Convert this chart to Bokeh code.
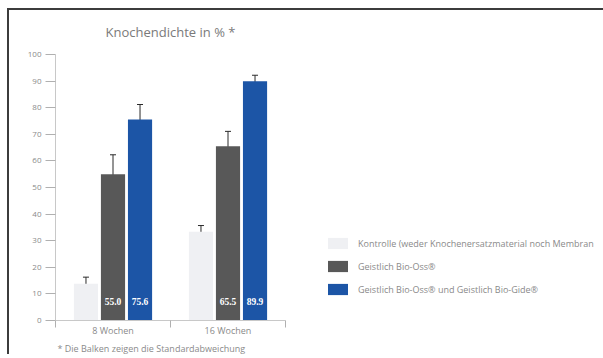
from bokeh.plotting import figure
from bokeh.models import (ColumnDataSource, Range1d, FixedTicker, Whisker, TeeHead,
                          LabelSet, Legend, LegendItem, Title)
from bokeh.embed import file_html
from bokeh.resources import INLINE

# ---- data ----
categories = ["8 Wochen", "16 Wochen"]
series_names = ["Kontrolle (weder Knochenersatzmaterial noch Membran",
                "Geistlich Bio-Oss®",
                "Geistlich Bio-Oss® und Geistlich Bio-Gide®"]
kontrolle = [13.8, 33.4]
kontrolle_sd = [2.5, 2.3]
bio_oss = [55.0, 65.5]
bio_oss_sd = [7.3, 5.6]
bio_gide = [75.6, 89.9]
bio_gide_sd = [5.6, 2.3]
value_labels_oss = ["55.0", "65.5"]
value_labels_gide = ["75.6", "89.9"]
y_ticks = [0, 10, 20, 30, 40, 50, 60, 70, 80, 90, 100]

colors = ["#eff0f3", "#585858", "#1c55a6"]
offsets = [-0.235, 0.0, 0.235]
bar_w = 0.21
FONT = "Open Sans"
TXT = "#8a8a8a"

p = figure(frame_width=230, frame_height=266, output_backend="svg", toolbar_location=None,
           x_range=Range1d(0, len(categories)), y_range=Range1d(0, 100),
           min_border_left=46, min_border_right=312, min_border_top=44, min_border_bottom=0)
p.styles = {"border-left": "2px solid #3c3c3c", "border-top": "2px solid #3c3c3c",
            "margin-left": "7px", "margin-top": "8px"}
p.outline_line_color = None
p.grid.visible = False
p.background_fill_color = "white"
p.border_fill_color = "white"

p.title.text = "Knochendichte in % *"
p.title.align = "center"
p.title.vertical_align = "top"
p.title.text_font = FONT
p.title.text_font_style = "normal"
p.title.text_font_size = "13px"
p.title.text_color = "#7a7a7a"
p.title.standoff = 24

values = [kontrolle, bio_oss, bio_gide]
sds = [kontrolle_sd, bio_oss_sd, bio_gide_sd]
renderers = []
for k in range(3):
    xs = [i + 0.5 + offsets[k] for i in range(len(categories))]
    src = ColumnDataSource(dict(x=xs, top=values[k],
                                upper=[v + s for v, s in zip(values[k], sds[k])],
                                lower=[v - s for v, s in zip(values[k], sds[k])]))
    r = p.vbar(x="x", top="top", bottom=0, width=bar_w, source=src,
               fill_color=colors[k], line_color=None)
    renderers.append(r)
    w = Whisker(base="x", upper="upper", lower="lower", source=src,
                line_color="#2a2a2a", line_width=1,
                upper_head=TeeHead(size=6, line_color="#2a2a2a", line_width=1),
                lower_head=TeeHead(size=6, line_color="#2a2a2a", line_width=1))
    p.add_layout(w)

for k, labels in ((1, value_labels_oss), (2, value_labels_gide)):
    xs = [i + 0.5 + offsets[k] for i in range(len(categories))]
    lsrc = ColumnDataSource(dict(x=xs, y=[0] * len(xs), t=labels))
    p.add_layout(LabelSet(x="x", y="y", text="t", source=lsrc, y_offset=19,
                          text_align="center", text_baseline="middle",
                          text_color="white", text_font="Liberation Sans", text_font_style="bold",
                          text_font_size="9.5px"))

# y axis
ya = p.yaxis[0]
ya.ticker = FixedTicker(ticks=y_ticks)
ya.axis_line_color = "#c8c8c8"
ya.major_tick_line_color = "#b0b0b0"
ya.major_tick_out = 10
ya.major_tick_in = 0
ya.minor_tick_line_color = None
ya.major_label_standoff = 4
ya.major_label_text_font = FONT
ya.major_label_text_font_size = "8px"
ya.major_label_text_color = TXT

# x axis: labels at category centres, ticks at category boundaries
xa = p.xaxis[0]
xa.ticker = FixedTicker(ticks=[i + 0.5 for i in range(len(categories))],
                        minor_ticks=list(range(len(categories) + 1)))
xa.major_label_overrides = {i + 0.5: c for i, c in enumerate(categories)}
xa.axis_line_color = "#c8c8c8"
xa.major_tick_line_color = None
xa.minor_tick_line_color = "#b0b0b0"
xa.minor_tick_out = 7
xa.minor_tick_in = 0
xa.major_label_standoff = -4
xa.major_label_text_font = FONT
xa.major_label_text_font_size = "9px"
xa.major_label_text_color = TXT

p.add_layout(Title(text="* Die Balken zeigen die Standardabweichung", align="left", offset=2,
                   text_font=FONT, text_font_size="9px", text_color=TXT,
                   text_font_style="normal", standoff=0), "below")

legend = Legend(items=[LegendItem(label=series_names[k], renderers=[renderers[k]]) for k in range(3)],
                location=(40, 24), glyph_width=25, glyph_height=14, spacing=9,
                label_standoff=8, label_text_font=FONT, label_text_font_size="9px",
                label_text_color=TXT, border_line_color=None,
                background_fill_alpha=0, padding=0, margin=0)
p.add_layout(legend, "right")

open("out.html", "w").write(file_html(p, INLINE))
